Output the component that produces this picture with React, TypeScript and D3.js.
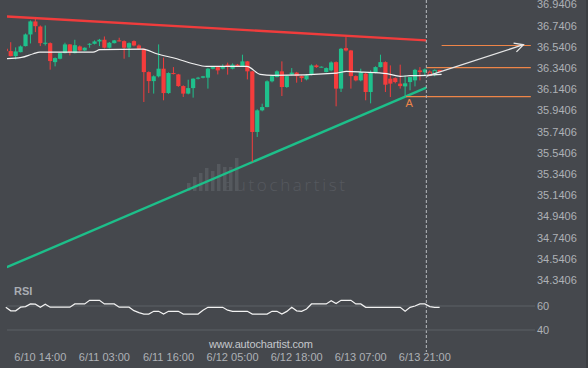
import React from 'react';
import * as d3 from 'd3';

const W = 588;
const H = 368;

// Candle data (price), index = hourly bar
const open = [36.523,36.501,36.454,36.491,36.548,36.658,36.781,36.733,36.570,36.576,36.397,36.429,36.482,36.564,36.482,36.545,36.507,36.564,36.570,36.592,36.608,36.533,36.576,36.602,36.595,36.533,36.595,36.554,36.523,36.303,36.218,36.263,36.335,36.105,36.294,36.281,36.171,36.100,36.152,36.241,36.250,36.250,36.335,36.350,36.335,36.373,36.335,36.373,36.360,36.404,36.310,35.738,35.942,35.973,36.216,36.256,36.310,36.162,36.279,36.298,36.265,36.234,36.279,36.366,36.350,36.303,36.319,36.397,36.147,36.529,36.507,36.265,36.225,36.288,36.115,36.298,36.350,36.397,36.241,36.246,36.194,36.168,36.209,36.225,36.319,36.300,36.303,36.288,36.319];
const high = [36.526,36.585,36.536,36.554,36.667,36.790,36.821,36.743,36.743,36.583,36.441,36.489,36.580,36.568,36.608,36.554,36.536,36.576,36.602,36.616,36.639,36.587,36.606,36.627,36.602,36.583,36.602,36.564,36.526,36.310,36.272,36.564,36.439,36.300,36.350,36.286,36.178,36.231,36.244,36.258,36.267,36.343,36.357,36.357,36.376,36.392,36.385,36.380,36.467,36.408,36.315,35.952,36.005,36.225,36.277,36.319,36.404,36.272,36.341,36.305,36.272,36.281,36.376,36.376,36.357,36.347,36.404,36.404,36.531,36.633,36.512,36.272,36.335,36.296,36.319,36.357,36.467,36.404,36.366,36.253,36.373,36.272,36.225,36.333,36.350,36.338,36.319,36.329,36.324];
const low = [36.498,36.451,36.423,36.489,36.545,36.573,36.680,36.548,36.554,36.326,36.357,36.423,36.479,36.460,36.479,36.498,36.503,36.533,36.564,36.548,36.526,36.526,36.573,36.592,36.429,36.444,36.545,36.517,36.021,36.105,36.100,36.253,36.037,36.098,36.281,36.164,36.068,36.093,36.062,36.234,36.244,36.147,36.329,36.281,36.329,36.279,36.329,36.352,36.357,36.234,35.456,35.691,35.933,35.971,36.206,36.253,36.077,36.154,36.272,36.203,36.209,36.225,36.272,36.343,36.347,36.300,36.310,35.980,36.115,36.498,36.147,36.216,36.216,36.037,36.008,36.291,36.347,36.115,36.068,36.197,36.147,36.074,36.131,36.168,36.225,36.272,36.263,36.263,36.310];
const close = [36.501,36.454,36.498,36.545,36.658,36.781,36.736,36.576,36.580,36.407,36.435,36.482,36.564,36.491,36.557,36.507,36.533,36.570,36.592,36.608,36.533,36.580,36.602,36.595,36.533,36.576,36.554,36.523,36.303,36.218,36.263,36.335,36.105,36.294,36.288,36.171,36.100,36.152,36.241,36.250,36.263,36.335,36.350,36.319,36.360,36.360,36.373,36.360,36.404,36.310,35.738,35.942,35.973,36.216,36.265,36.310,36.162,36.265,36.298,36.265,36.246,36.272,36.366,36.350,36.354,36.341,36.394,36.147,36.523,36.507,36.265,36.225,36.303,36.115,36.303,36.350,36.397,36.184,36.194,36.209,36.171,36.197,36.256,36.324,36.303,36.329,36.272,36.319,36.315];
const firstForecast = 86;

// Moving average samples (bar index, price)
const maIdx = [0.2,3.2,5.6,6.9,17.7,19.1,27.8,30.6,34.7,38,40.7,48.9,51.6,54.2,67.1,69.1,72.5,77.3,80,82,85.4,88.4];
const maVal = [36.429,36.441,36.476,36.491,36.491,36.514,36.520,36.476,36.429,36.382,36.357,36.357,36.281,36.272,36.294,36.310,36.303,36.288,36.263,36.269,36.272,36.281];

// RSI per bar
const rsi = [59,56,56,59,59.5,61.7,61.5,59,61.5,59,59,59,59,59,61.7,61.7,61.7,64.7,64.7,64.7,61.7,61.7,61.7,59,59,59,56.1,54.5,53.3,53.3,55.6,55.6,53.3,55.6,55.6,55.6,53.3,53.3,53.3,53.3,56.5,58.9,58.9,58.9,58.9,56.5,55.6,55.6,55.6,55.6,53.3,53.3,53.3,53.3,55.6,55.6,53.3,55.5,58.9,56,55.6,57.5,61.7,61.7,61.7,61.7,64.4,62,64.7,64.7,64.7,61.7,61.7,58.9,58.9,58.9,58.9,58.9,58.9,58.9,58.9,55.6,58.9,60,61.7,61.7,59.5,58.9,58.9];

// Axes
const priceTicks = ['36.9406','36.7406','36.5406','36.3406','36.1406','35.9406','35.7406','35.5406','35.3406','35.1406','34.9406','34.7406','34.5406','34.3406'];
const rsiTicks = [60, 40];
const xTickIdx = [7, 20, 33, 46, 59, 72, 85];
const xTickLabels = ['6/10 14:00','6/11 03:00','6/11 16:00','6/12 05:00','6/12 18:00','6/13 07:00','6/13 21:00'];

// Pattern
const resistance = [[0.2, 36.828], [85.3, 36.602]];
const support = [[0.2, 34.462], [85.3, 36.156]];
const endIdx = 85.3;
const levelHigh = [[88.4, 106.5, 36.554]];
const levelMid = [[85.3, 106.5, 36.345]];
const levelLow = [[81.2, 106.5, 36.071]];
const arrowFrom = [85.4, 36.265];
const arrowTo = [105, 36.561];
const pointA = [81.2, 36.071];

const x = d3.scaleLinear().domain([0, 85]).range([5.8, 5.8 + 4.93 * 85]);
const y = d3.scaleLinear().domain([34.3406, 36.9406]).range([280.1, 4.5]);
const yR = d3.scaleLinear().domain([40, 60]).range([330, 306]);

const GREEN = '#1fc08c';
const RED = '#f43c3c';
const ORANGE = '#ee8548';
const TXT = '#aeb1b6';
const FONT = 'Liberation Sans, Arial, sans-serif';

export default function App() {
  const maLine = d3.line<number>().x((_, i) => x(maIdx[i])).y((d) => y(d)).curve(d3.curveMonotoneX)(maVal) || '';
  const rsiLine = d3.line<number>().x((_, i) => x(i)).y((d) => yR(d))(rsi) || '';
  const bw = 4.2;

  const ax = x(arrowTo[0]);
  const ay = y(arrowTo[1]);
  const sx = x(arrowFrom[0]);
  const sy = y(arrowFrom[1]);
  const ang = Math.atan2(ay - sy, ax - sx);
  const wing = (da: number) => [ax - 10 * Math.cos(ang + da), ay - 10 * Math.sin(ang + da)];
  const w1 = wing(0.48);
  const w2 = wing(-0.48);

  const logoBars = [[187, 183], [193, 177], [199, 173], [205, 168], [211, 171], [217, 164], [223, 167], [229, 167], [235, 158]];

  return (
    <svg width={W} height={H} style={{ position: 'fixed', left: 0, top: 0, display: 'block' }} xmlns="http://www.w3.org/2000/svg">
      <defs>
        <clipPath id="plot">
          <rect x={7} y={0} width={W - 7} height={285} />
        </clipPath>
      </defs>
      <rect x={0} y={0} width={W} height={H} fill="#45484d" />
      <rect x={586} y={0} width={2} height={H} fill="#3b3e42" />

      {/* watermark */}
      <g fill="#55595e">
        {logoBars.map(([bx, top], i) => (
          <rect key={i} x={bx} y={top} width={3.5} height={191 - top} />
        ))}
        <text x={224} y={191} fontFamily="Open Sans, Lato, sans-serif" fontWeight={300} fontSize={17} textLength={121} lengthAdjust="spacing" fill="#56595f">autochartist</text>
      </g>

      {/* price labels */}
      {priceTicks.map((t) => (
        <text key={t} x={537} y={y(+t)} dy="0.35em" fontFamily={FONT} fontSize={11} fill={TXT}>{t}</text>
      ))}

      <g clipPath="url(#plot)">
        {/* trend lines */}
        <line x1={x(resistance[0][0])} y1={y(resistance[0][1])} x2={x(resistance[1][0])} y2={y(resistance[1][1])} stroke="#f03c3c" strokeWidth={2.4} />
        <line x1={x(support[0][0])} y1={y(support[0][1])} x2={x(support[1][0])} y2={y(support[1][1])} stroke="#1dbf8a" strokeWidth={2.4} />

        {/* candles */}
        {open.map((o, i) => {
          const c = close[i];
          const up = c >= o;
          const col = up ? GREEN : RED;
          const cx = x(i);
          const top = y(Math.max(o, c));
          const bot = y(Math.min(o, c));
          const hollow = i >= firstForecast;
          return (
            <g key={i}>
              <line x1={cx} x2={cx} y1={y(high[i])} y2={y(low[i])} stroke={col} strokeWidth={1} />
              {hollow ? (
                <rect x={cx - bw / 2 + 0.5} y={top} width={bw - 1} height={Math.max(1, bot - top)} fill="#45484d" stroke={col} strokeWidth={1} />
              ) : (
                <rect x={cx - bw / 2} y={top} width={bw} height={Math.max(1, bot - top)} fill={col} />
              )}
            </g>
          );
        })}

        {/* moving average */}
        <path d={maLine} fill="none" stroke="#f2f2f2" strokeWidth={1.2} />
      </g>

      {/* levels */}
      {[levelHigh, levelMid, levelLow].map((lv, k) =>
        lv.map(([a, b, v], j) => (
          <line key={k + '-' + j} x1={x(a)} x2={x(b)} y1={y(v)} y2={y(v)} stroke={ORANGE} strokeWidth={1.2} />
        ))
      )}
      <text x={x(pointA[0]) + 3} y={y(pointA[1]) + 10} fontFamily={FONT} fontSize={11} fill={ORANGE} textAnchor="middle">A</text>

      {/* end of pattern */}
      <line x1={x(endIdx)} x2={x(endIdx)} y1={0} y2={352} stroke="#b9bcc0" strokeWidth={1} strokeDasharray="3,2" />

      {/* forecast arrow */}
      <g stroke="#e6e6e6" strokeWidth={1.3} fill="none">
        <line x1={sx} y1={sy} x2={ax} y2={ay} />
        <polyline points={`${w1[0]},${w1[1]} ${ax},${ay} ${w2[0]},${w2[1]}`} />
      </g>

      {/* RSI panel */}
      <text x={14} y={295} fontFamily={FONT} fontSize={11} fontWeight="bold" fill="#a9adb3">RSI</text>
      {rsiTicks.map((t) => (
        <g key={t}>
          <line x1={7} x2={535} y1={yR(t)} y2={yR(t)} stroke="#5d6166" strokeWidth={1} />
          <text x={537} y={yR(t)} dy="0.35em" fontFamily={FONT} fontSize={11} fill={TXT}>{t}</text>
        </g>
      ))}
      <path d={rsiLine} fill="none" stroke="#f2f2f2" strokeWidth={1.2} />

      <text x={209} y={348} fontFamily={FONT} fontSize={11} fill="#c4c7cb" textLength={104} lengthAdjust="spacing">www.autochartist.com</text>

      {xTickIdx.map((ti, k) => (
        <text key={k} x={x(ti)} y={361} fontFamily={FONT} fontSize={11} fill={TXT} textAnchor="middle">{xTickLabels[k]}</text>
      ))}
    </svg>
  );
}
